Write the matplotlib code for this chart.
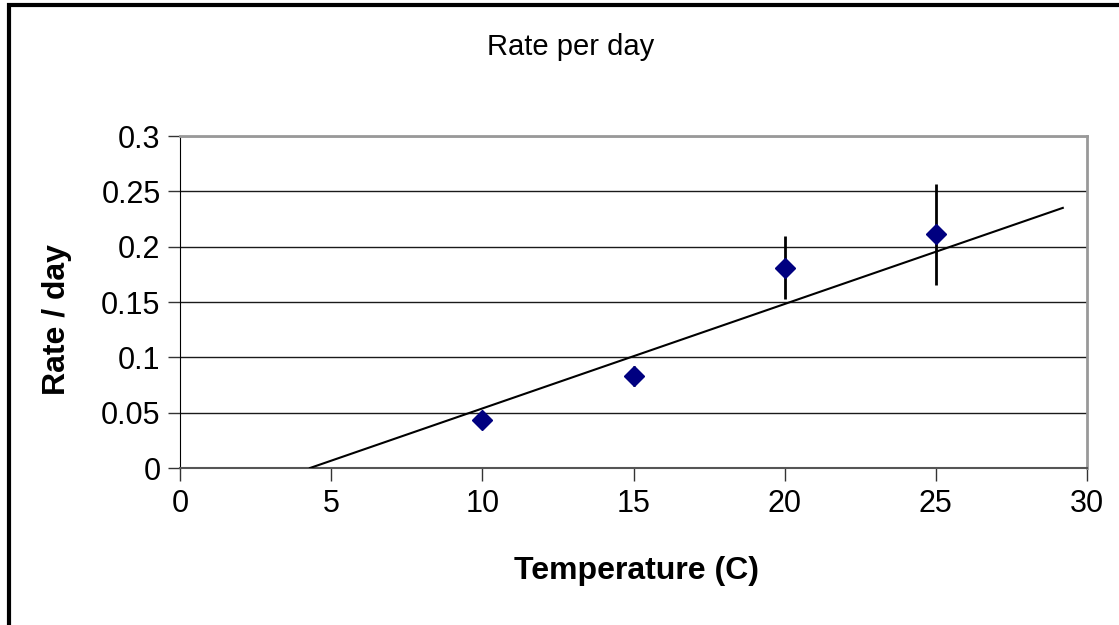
import matplotlib.pyplot as plt
from matplotlib.patches import Rectangle

# rate data
temperature = [10, 15, 20, 25]
rate = [0.043, 0.083, 0.181, 0.211]
rate_err = [0.004, 0.009, 0.0285, 0.046]

# trendline
trend_x = [4.3, 29.2]
trend_slope = 0.00944
trend_intercept = -0.0406

x_ticks = [0, 5, 10, 15, 20, 25, 30]
y_ticks = [0, 0.05, 0.1, 0.15, 0.2, 0.25, 0.3]
y_ticklabels = ['0', '0.05', '0.1', '0.15', '0.2', '0.25', '0.3']

plt.rcParams['font.family'] = ['Liberation Sans', 'DejaVu Sans']

W, H = 1119, 625
fig = plt.figure(figsize=(W / 100, H / 100), dpi=100)

# outer chart frame (cut off on right and bottom)
fig.patches.append(Rectangle((8.5 / W, -0.1), 1.2, 1.1 - 4.5 / H, transform=fig.transFigure,
                             fill=False, edgecolor='black', linewidth=3))

ax = fig.add_axes([180 / W, 1 - 468 / H, (1087 - 180) / W, (468 - 136) / H])

ax.set_xlim(0, 30)
ax.set_ylim(0, 0.3)
ax.set_xticks(x_ticks)
ax.set_yticks(y_ticks)
ax.set_yticklabels(y_ticklabels)

ax.yaxis.grid(True, color='#1a1a1a', linewidth=1)
ax.set_axisbelow(True)

for s in ['top', 'right']:
    ax.spines[s].set_color('#999999')
    ax.spines[s].set_linewidth(2)
ax.spines['left'].set_color('black')
ax.spines['bottom'].set_color('#555555')
ax.spines['bottom'].set_linewidth(1.5)

ax.tick_params(axis='both', direction='out', length=9, width=1, color='#333333',
               labelsize=22)
ax.tick_params(axis='x', pad=6)
ax.tick_params(axis='y', pad=5)

tx = trend_x
ty = [trend_slope * v + trend_intercept for v in tx]
ax.plot(tx, ty, color='black', linewidth=1.5, zorder=3)

ax.errorbar(temperature, rate, yerr=rate_err, fmt='none', ecolor='black',
            elinewidth=2, capsize=0, zorder=4)
ax.plot(temperature, rate, linestyle='none', marker='D', markersize=10,
        color='#000080', zorder=5)

fig.text(571 / W, 1 - 47 / H, 'Rate per day', ha='center', va='center', fontsize=21)
fig.text(636 / W, 1 - 571 / H, 'Temperature (C)', ha='center', va='center',
         fontsize=23, fontweight='bold')
fig.text(57 / W, 1 - 320 / H, 'Rate / day', ha='center', va='center', rotation=90,
         fontsize=23, fontweight='bold')

fig.savefig('out.png', dpi=100)
